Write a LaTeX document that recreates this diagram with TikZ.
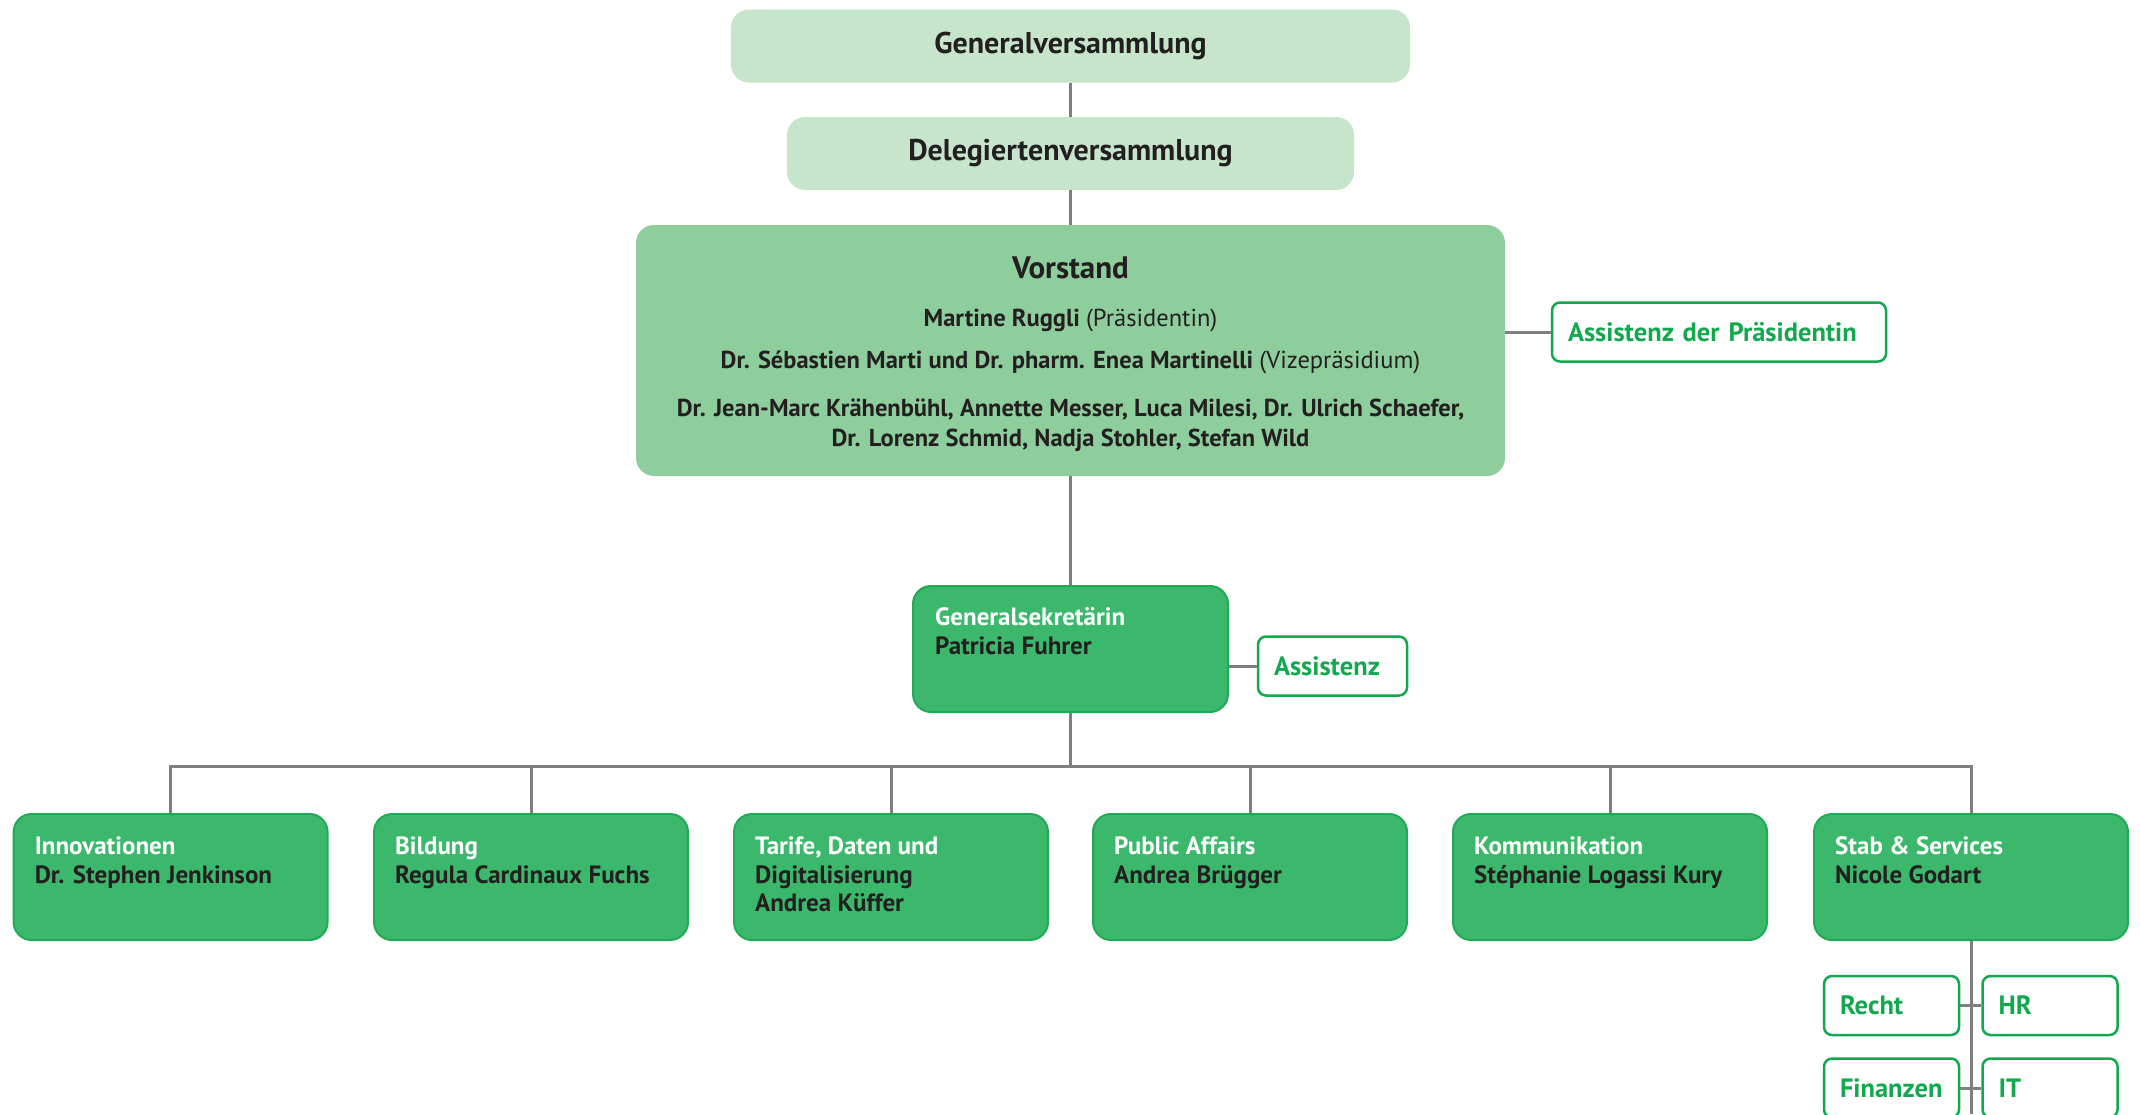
\documentclass[tikz,border=0pt]{standalone}
\usepackage{fontspec}
\setmainfont{PT Sans}
\usetikzlibrary{positioning}
\definecolor{lightbox}{HTML}{C7E5CB}
\definecolor{midbox}{HTML}{8ECE9D}
\definecolor{darkbox}{HTML}{3BB86B}
\definecolor{darkline}{HTML}{1FAB55}
\definecolor{textgreen}{HTML}{12A84E}
\definecolor{linegray}{HTML}{7F7F7F}
\definecolor{textblack}{HTML}{231F20}
\newcommand{\Bereich}[5]{
\node[unit, anchor=north] (#1) at (#2,#3) {}; % box
\node[unittext, anchor=north west] (#1-t) at ([xshift=22, yshift=-23.5]#1.north west) {\color{white}#4\\\color{textblack}#5}; % text
}
\begin{document}
\begin{tikzpicture}[x=1pt, y=-1pt,
top/.style={rounded corners=18pt, fill=lightbox, minimum height=73pt, text=textblack, font=\fontsize{30}{32}\selectfont\bfseries},
board/.style={rounded corners=18pt, fill=midbox, minimum width=869pt, minimum height=251pt},
boardtext/.style={text=textblack, align=center, inner sep=0, font=\fontsize{24.5}{30}\selectfont\bfseries},
unit/.style={rounded corners=18pt, fill=darkbox, draw=darkline, line width=2pt, minimum width=314pt, minimum height=126pt},
unittext/.style={inner sep=0, align=left, text=textblack, font=\fontsize{25}{28.7}\selectfont\bfseries},
staff/.style={rounded corners=8pt, fill=white, draw=textgreen, line width=2.5pt, inner xsep=16pt, align=left, text=textgreen, font=\fontsize{26.5}{30}\selectfont\bfseries, minimum height=59pt},
link/.style={linegray, line width=3pt}]
\useasboundingbox (0,0) rectangle (2140,1114);
%%%%%%%%%%%%%%%%%%%%%%% GREMIEN %%%%%%%%%%%%%%%%%%%%%%%%%%%
\node[top, minimum width=679pt] (gv) at (1070.5,46) {Generalversammlung};
\node[top, minimum width=567pt] (dv) at (1070.5,153.5) {Delegiertenversammlung};
\node[board] (vorstand) at (1070.5,350.5) {};
\node[boardtext, font=\fontsize{31}{32}\selectfont\bfseries] (v1) at (1070.5,267.5) {Vorstand};
\node[boardtext] (v2) at (1070.5,320.5) {Martine Ruggli \textmd{(Präsidentin)}};
\node[boardtext] (v3) at (1070.5,362.5) {Dr. Sébastien Marti und Dr. pharm. Enea Martinelli \textmd{(Vizepräsidium)}};
\node[boardtext] (v4) at (1070.5,425.5) {Dr. Jean-Marc Krähenbühl, Annette Messer, Luca Milesi, Dr. Ulrich Schaefer,\\Dr. Lorenz Schmid, Nadja Stohler, Stefan Wild};
\node[staff, text width=302pt] (ap) at (1719,332) {Assistenz der Präsidentin};
%%%%%%%%%%%%%%%%%%%%%%% GESCHAEFTSSTELLE %%%%%%%%%%%%%%%%%%%%%%%%%%%
\node[unit, minimum width=315pt, anchor=north] (gs) at (1070.5,585) {};
\node[unittext, anchor=north west] (gs-t) at ([xshift=23, yshift=-22.5]gs.north west) {\color{white}Generalsekretärin\\\color{textblack}Patricia Fuhrer};
\node[staff, text width=117pt] (as) at (1332.5,666) {Assistenz};
%%%%%%%% BEREICHE %%%%%%%%%%%%%
\Bereich{inno}{170.6}{813}{Innovationen}{Dr. Stephen Jenkinson}
\Bereich{bild}{531}{813}{Bildung}{Regula Cardinaux Fuchs}
\Bereich{tarif}{891}{813}{Tarife, Daten und\\Digitalisierung}{Andrea Küffer}
\Bereich{pa}{1250}{813}{Public Affairs}{Andrea Brügger}
\Bereich{komm}{1610}{813}{Kommunikation}{Stéphanie Logassi Kury}
\Bereich{stab}{1971}{813}{Stab \& Services}{Nicole Godart}
\node[staff, text width=103pt] (recht) at (1891.5,1005.5) {Recht};
\node[staff, text width=103pt] (hr) at (2050,1005.5) {HR};
\node[staff, text width=103pt] (fin) at (1891.5,1088) {Finanzen};
\node[staff, text width=103pt] (it) at (2050,1088) {IT};
%%%%%%%% LINIEN %%%%%%%%%%%%%
\coordinate (bus) at (1070.5,766);
\coordinate (stabend) at (1971,1114);
\draw[link] (gv.south) -- (dv.north);
\draw[link] (dv.south) -- (vorstand.north);
\draw[link] (vorstand.south) -- (gs.north);
\draw[link] (ap.west) -- (ap.west -| vorstand.east);
\draw[link] (as.west) -- (as.west -| gs.east);
\draw[link] (gs.south) -- (bus);
\draw[link] (inno.north) -- (inno.north |- bus) -- (stab.north |- bus) -- (stab.north);
\draw[link] (bild.north) -- (bild.north |- bus);
\draw[link] (tarif.north) -- (tarif.north |- bus);
\draw[link] (pa.north) -- (pa.north |- bus);
\draw[link] (komm.north) -- (komm.north |- bus);
\draw[link] (stab.south) -- (stabend);
\draw[link] (recht.east) -- (hr.west);
\draw[link] (fin.east) -- (it.west);
\end{tikzpicture}
\end{document}
